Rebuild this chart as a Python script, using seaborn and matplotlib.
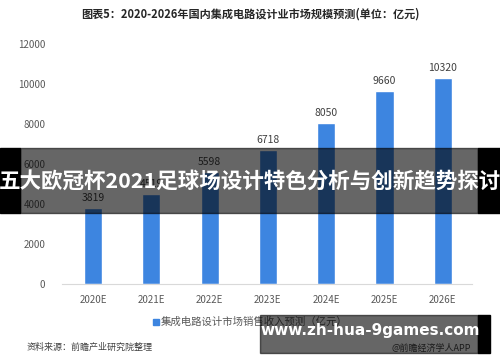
import pandas as pd
import seaborn as sns
import matplotlib.pyplot as plt
from matplotlib.patches import Rectangle

# data
years = ['2020E', '2021E', '2022E', '2023E', '2024E', '2025E', '2026E']
sales = [3819, 4519, 5598, 6718, 8050, 9660, 10320]
y_ticks = [0, 2000, 4000, 6000, 8000, 10000, 12000]

df = pd.DataFrame({'year': years, 'sales': sales})

sns.set_style('white')
plt.rcParams['font.family'] = ['Noto Sans CJK SC', 'DejaVu Sans']

fig = plt.figure(figsize=(5, 3.62), dpi=100)
ax = fig.add_axes([62 / 500, 1 - 284 / 362, 410 / 500, 240 / 362])

sns.barplot(data=df, x='year', y='sales', color='#3d85e0', width=0.31,
            saturation=1, ax=ax)

for i, v in enumerate(sales):
    ax.text(i, v + 250, str(v), ha='center', va='bottom', fontsize=7.5, color='#404040')

ax.set_xlim(-0.53, 6.5)
ax.set_ylim(0, 12000)
ax.set_yticks(y_ticks)
ax.set_yticklabels([str(t) for t in y_ticks], fontsize=7, color='#595959')
ax.tick_params(axis='x', labelsize=7, colors='#595959', length=0, pad=8)
ax.tick_params(axis='y', length=0, pad=12)
ax.set_xlabel('')
ax.set_ylabel('')
for s in ['top', 'right', 'left']:
    ax.spines[s].set_visible(False)
ax.spines['bottom'].set_color('#d9d9d9')

fig.text(0.5, 1 - 14 / 362, '图表5：2020-2026年国内集成电路设计业市场规模预测(单位：亿元)',
         ha='center', va='center', fontsize=8, fontweight='bold', color='#262626')

# legend
fig.patches.append(Rectangle((153 / 500, 1 - 325 / 362), 6 / 500, 6 / 362,
                             transform=fig.transFigure, color='#3d85e0'))
fig.text(161 / 500, 1 - 322 / 362, '集成电路设计市场销售收入预测（亿元）',
         ha='left', va='center', fontsize=7.5, color='#595959')

fig.text(27 / 500, 1 - 347 / 362, '资料来源：前瞻产业研究院整理',
         ha='left', va='center', fontsize=6.5, color='#404040')
fig.text(392 / 500, 1 - 348 / 362, '@前瞻经济学人APP',
         ha='left', va='center', fontsize=6.5, color='#404040')

# overlay banner across the middle
band_y = 1 - 213 / 362
band_h = 65 / 362
fig.patches.append(Rectangle((0, band_y), 20 / 500, band_h,
                             transform=fig.transFigure, color='black', zorder=5))
fig.patches.append(Rectangle((478 / 500, band_y), 22 / 500, band_h,
                             transform=fig.transFigure, color='black', zorder=5))
fig.patches.append(Rectangle((20 / 500, band_y), 458 / 500, band_h,
                             transform=fig.transFigure, color='#000000', alpha=0.6,
                             zorder=6))
fig.text(0.5, 1 - 181 / 362, '五大欧冠杯2021足球场设计特色分析与创新趋势探讨',
         ha='center', va='center', fontsize=15.5, fontweight='bold', color='white',
         zorder=7)

# bottom banner
fig.patches.append(Rectangle((260 / 500, 1 - 353 / 362), 218 / 500, 38 / 362,
                             transform=fig.transFigure, color='#000000', alpha=0.6,
                             zorder=6))
fig.patches.append(Rectangle((478 / 500, 1 - 353 / 362), 12 / 500, 38 / 362,
                             transform=fig.transFigure, color='black', zorder=6))
fig.text(370 / 500, 1 - 330 / 362, 'www.zh-hua-9games.com',
         ha='center', va='center', fontsize=11, fontweight='bold', color='white',
         family='DejaVu Sans', zorder=7)

fig.savefig('out.png', dpi=100)
